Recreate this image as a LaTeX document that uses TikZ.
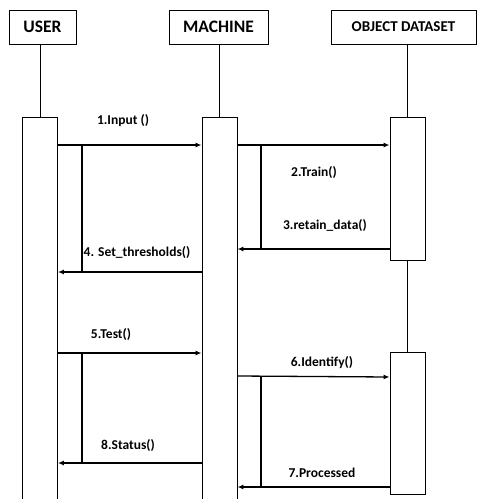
\documentclass[tikz,border=0pt]{standalone}
\usepackage{fontspec}
\setmainfont{Carlito}
\usetikzlibrary{arrows.meta}
\usetikzlibrary{positioning}

\begin{document}
\begin{tikzpicture}[x=1pt,y=-1pt,
    headbox/.style={draw,line width=0.9pt,inner sep=0pt,minimum height=34pt,font=\bfseries\fontsize{17.5}{20}\selectfont},
    actbox/.style={draw,line width=0.9pt,fill=white,inner sep=0pt,minimum width=35pt},
    msg/.style={line width=1.3pt,-{Latex[length=6pt,width=5pt]}},
    bar/.style={line width=1.3pt},
    lbl/.style={font=\bfseries\fontsize{13.5}{15}\selectfont,inner sep=0pt}]
        \useasboundingbox (0,0) rectangle (480,499);
        \clip (0,0) rectangle (480,499);

        % Heads
        \node[headbox,minimum width=67pt] (user) at (42.5,27) {USER};
        \node[headbox,minimum width=99pt] (machine) at (218.5,27) {MACHINE};
        \node[headbox,minimum width=145pt,font=\bfseries\fontsize{15}{17}\selectfont] (objset) at (403.5,27) {OBJECT DATASET};

        % Activation boxes
        \node[actbox,minimum height=393pt] (uact) at (40,313.5) {};
        \node[actbox,minimum height=393pt] (mact) at (219.5,313.5) {};
        \node[actbox,minimum height=143pt] (oact) at (407.5,188.5) {};
        \node[actbox,minimum height=142pt] (oactb) at (407.5,423) {};

        % Lifelines
        \draw[line width=0.9pt] (uact.north) -- (uact.north |- user.south);
        \draw[line width=0.9pt] (mact.north) -- (mact.north |- machine.south);
        \draw[line width=0.9pt] (oact.north) -- (oact.north |- objset.south);
        \draw[line width=0.9pt] (oact.south) -- (oactb.north);

        % Training
        \draw[msg] (uact.east |- 0,145) -- (mact.west |- 0,145);
        \node[lbl] (m1) at (123,121) {1.Input ()};
        \draw[msg] (mact.east |- 0,145) -- (oact.west |- 0,145);
        \node[lbl] (m2) at (314,173) {2.Train()};
        \draw[msg] (oact.west |- 0,249) -- (mact.east |- 0,249);
        \node[lbl] (m3) at (325,226) {3.retain\_data()};
        \draw[bar] (261,145) -- (261,249);
        \draw[msg] (mact.west |- 0,272) -- (uact.east |- 0,272);
        \node[lbl] (m4) at (137,253) {4. Set\_thresholds()};
        \draw[bar] (82,145) -- (82,272);

        % Testing
        \draw[msg] (uact.east |- 0,353) -- (mact.west |- 0,353);
        \node[lbl] (m5) at (111,335) {5.Test()};
        \draw[msg] (mact.east |- 0,376) -- (oactb.west |- 0,377);
        \node[lbl] (m6) at (322,363) {6.Identify()};
        \draw[msg] (oactb.west |- 0,487) -- (mact.east |- 0,487);
        \node[lbl] (m7) at (322,473) {7.Processed};
        \draw[bar] (261,377) -- (261,487);
        \draw[msg] (mact.west |- 0,463) -- (uact.east |- 0,463);
        \node[lbl] (m8) at (128,446) {8.Status()};
        \draw[bar] (82,353) -- (82,463);
\end{tikzpicture}
\end{document}
